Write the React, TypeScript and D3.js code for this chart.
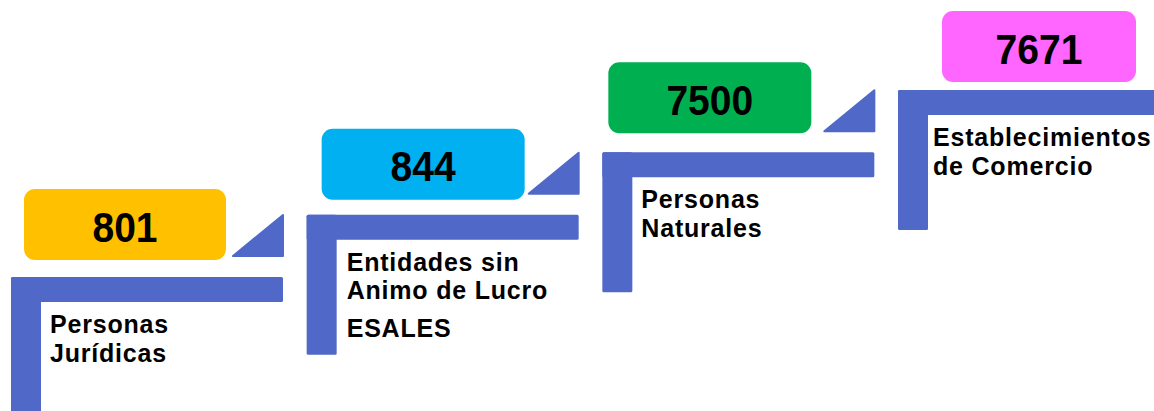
import React from "react";
import * as d3 from "d3";

const categories: string[][] = [
  ["Personas", "Jurídicas"],
  ["Entidades sin", "Animo de Lucro"],
  ["Personas", "Naturales"],
  ["Establecimientos", "de Comercio"],
];
const extraLabels: string[] = ["", "ESALES", "", ""];
const values: number[] = [801, 844, 7500, 7671];
const boxColors: string[] = ["#FFC000", "#00B0F0", "#00B050", "#FF66FF"];
// layout tweaks per step (box offset from the step's left edge, top offset)
const boxDx: number[] = [13, 15, 6, 44];
const boxDy: number[] = [-88, -86, -90, -79];
const boxW: number[] = [202, 203, 203, 194];
const textDx: number[] = [39, 40, 39, 35];

const W = 1154;
const H = 411;
const BLUE = "#5068C8";

export default function App() {
  const idx = d3.range(values.length);
  const x = d3.scaleLinear().domain([0, 3]).range([11, 898]);
  const y = d3.scaleLinear().domain([0, 3]).range([277, 90]);
  const barW = 272;
  const barT = 25;
  const vertW = 30;
  const vertH = 140;
  const boxH = 71;
  const font = "Arial, 'Liberation Sans', Helvetica, sans-serif";

  return (
    <svg
      width={W}
      height={H}
      style={{ position: "absolute", left: 0, top: 0, background: "#fff" }}
      fontFamily={font}
    >
      {idx.map((i) => {
        const x0 = x(i);
        const y0 = y(i);
        const right = x0 + barW;
        const tri = d3.path();
        tri.moveTo(right - 50, y0 - 21);
        tri.lineTo(right, y0 - 21);
        tri.lineTo(right, y0 - 62);
        tri.closePath();
        const bx = x0 + boxDx[i];
        const by = y0 + boxDy[i];
        const cx = bx + boxW[i] / 2;
        const tx = x0 + textDx[i];
        return (
          <g key={i}>
            <rect x={x0} y={y0} width={barW} height={barT} fill={BLUE} rx={1.5} />
            <rect x={x0} y={y0} width={vertW} height={vertH} fill={BLUE} rx={1.5} />
            {i < 3 && (
              <path
                d={tri.toString()}
                fill={BLUE}
                stroke={BLUE}
                strokeWidth={2}
                strokeLinejoin="round"
              />
            )}
            <rect x={bx} y={by} width={boxW[i]} height={boxH} rx={11} fill={boxColors[i]} />
            <g transform={`translate(${cx},${by + boxH / 2 + 17}) scale(0.93,1)`}>
              <text x={0} y={0} textAnchor="middle" fontWeight="bold" fontSize={42} fill="#000">
                {values[i]}
              </text>
            </g>
            {categories[i].map((line, j) => (
              <text
                key={j}
                x={tx}
                y={y0 + 56 + j * 28.5}
                fontWeight="bold"
                fontSize={25}
                letterSpacing={0.8}
                fill="#000"
              >
                {line}
              </text>
            ))}
            {extraLabels[i] && (
              <text
                x={tx}
                y={y0 + 56 + 28.5 + 38}
                fontWeight="bold"
                fontSize={25}
                letterSpacing={0.8}
                fill="#000"
              >
                {extraLabels[i]}
              </text>
            )}
          </g>
        );
      })}
    </svg>
  );
}
